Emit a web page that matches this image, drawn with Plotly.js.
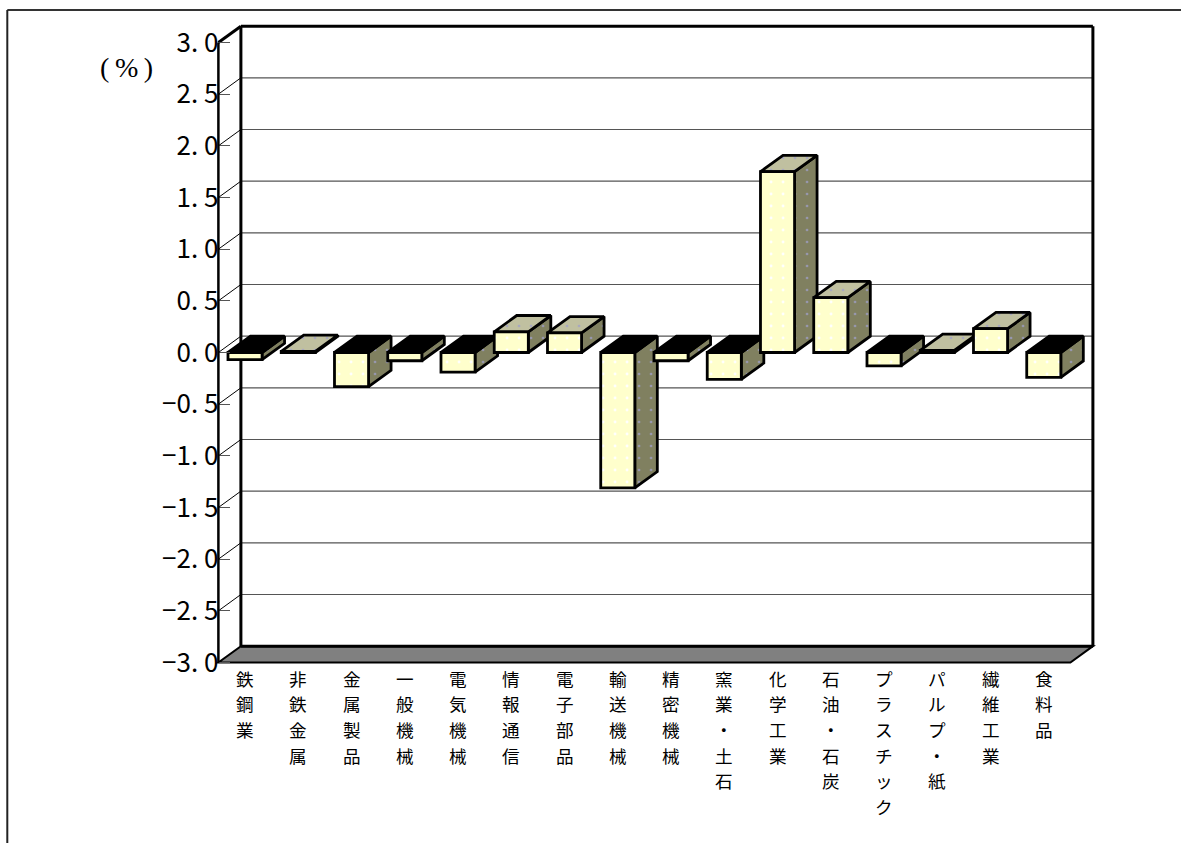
<!DOCTYPE html>
<html>
<head>
<meta charset="utf-8">
<script src="https://cdn.plot.ly/plotly-3.0.1.min.js"></script>
<style>
html,body{margin:0;padding:0;background:#fff;}
#chart{width:1181px;height:843px;}
</style>
</head>
<body>
<div id="chart"></div>
<script>
// ---- data ----
const categories = ['鉄鋼業','非鉄金属','金属製品','一般機械','電気機械','情報通信','電子部品','輸送機械','精密機械','窯業・土石','化学工業','石油・石炭','プラスチック','パルプ・紙','繊維工業','食料品'];
const values = [-0.07, 0.01, -0.33, -0.08, -0.19, 0.20, 0.19, -1.31, -0.08, -0.26, 1.75, 0.53, -0.13, 0.02, 0.23, -0.24];
const yTickValues = [-3, -2.5, -2, -1.5, -1, -0.5, 0, 0.5, 1, 1.5, 2, 2.5, 3];
const yTickLabels = ['−3. 0','−2. 5','−2. 0','−1. 5','−1. 0','−0. 5','0. 0','0. 5','1. 0','1. 5','2. 0','2. 5','3. 0'];
const unitLabel = '(\u2009%\u2009)';

// ---- 3D geometry (styling) ----
const W = 0.64;      // bar width in category units
const DX = 0.4225;   // depth offset along x (category units)
const DY = 0.158;    // depth offset along y (value units)
const X0 = -0.5, X1 = categories.length - 0.5;
const YMIN = -3, YMAX = 3;

const FIG_W = 1181, FIG_H = 843;
const PX_PER_X = 53.25, PX_PER_Y = 103.33;
const FRONT_LEFT_PX = 218.4, FRONT_TOP_PX = 42.5;
const xr = [X0 - 0.1, X1 + DX + 0.1];
const yr = [YMIN - 0.06, YMAX + DY + 0.06];
const xPx = v => FRONT_LEFT_PX + (v - X0) * PX_PER_X;
const yPx = v => FRONT_TOP_PX + (YMAX - v) * PX_PER_Y;
const xDomain = [xPx(xr[0]) / FIG_W, xPx(xr[1]) / FIG_W];
const yDomain = [1 - yPx(yr[0]) / FIG_H, 1 - yPx(yr[1]) / FIG_H];

// side faces & top faces built from values
const sideX = [], sideY = [], topPosX = [], topPosY = [], topNegX = [], topNegY = [];
values.forEach((v, i) => {
  const xl = i - W / 2, xrr = i + W / 2;
  sideX.push(xrr, xrr, xrr + DX, xrr + DX, xrr, null);
  sideY.push(0, v, v + DY, DY, 0, null);
  const t = Math.max(v, 0);
  const tx = [xl, xrr, xrr + DX, xl + DX, xl, null];
  const ty = [t, t, t + DY, t + DY, t, null];
  if (v >= 0) { topPosX.push(...tx); topPosY.push(...ty); }
  else { topNegX.push(...tx); topNegY.push(...ty); }
});

const outline = {color: '#000', width: 2.8};
const traces = [
  {type: 'scatter', mode: 'lines', x: sideX, y: sideY, fill: 'toself', fillcolor: '#808060',
   fillpattern: {shape: '.', fgcolor: '#9898b0', bgcolor: '#808060', size: 12, solidity: 0.04},
   line: outline, xaxis: 'x', yaxis: 'y', hoverinfo: 'skip', showlegend: false},
  {type: 'scatter', mode: 'lines', x: topPosX, y: topPosY, fill: 'toself', fillcolor: '#c0c0a0',
   fillpattern: {shape: '.', fgcolor: '#a8a8c0', bgcolor: '#c0c0a0', size: 12, solidity: 0.04},
   line: outline, xaxis: 'x', yaxis: 'y', hoverinfo: 'skip', showlegend: false},
  {type: 'scatter', mode: 'lines', x: topNegX, y: topNegY, fill: 'toself', fillcolor: '#000000',
   line: outline, xaxis: 'x', yaxis: 'y', hoverinfo: 'skip', showlegend: false},
  {type: 'bar', x: categories.map((c, i) => i), y: values, base: 0, width: W,
   marker: {color: '#FFFFCC', line: {color: '#000', width: 2.8},
            pattern: {shape: '.', fgcolor: '#ffffff', bgcolor: '#FFFFCC', size: 12, solidity: 0.045}},
   xaxis: 'x2', yaxis: 'y2', hoverinfo: 'skip', showlegend: false}
];

const shapes = [];
// floor
shapes.push({type: 'path', xref: 'x', yref: 'y', layer: 'below',
  path: `M ${X0},${YMIN} L ${X1},${YMIN} L ${X1 + DX},${YMIN + DY} L ${X0 + DX},${YMIN + DY} Z`,
  fillcolor: '#808080', line: {color: '#000', width: 2}});
// back wall gridlines and left wall diagonals
yTickValues.forEach(v => {
  if (v > YMIN && v < YMAX) {
    shapes.push({type: 'line', xref: 'x', yref: 'y', layer: 'below', x0: X0 + DX, x1: X1 + DX, y0: v + DY, y1: v + DY,
      line: {color: '#555', width: 1.2}});
    shapes.push({type: 'line', xref: 'x', yref: 'y', layer: 'below', x0: X0, x1: X0 + DX, y0: v, y1: v + DY,
      line: {color: '#000', width: 1}});
  }
});
// wall frame
const thick = {color: '#000', width: 3};
shapes.push({type: 'line', xref: 'x', yref: 'y', layer: 'below', x0: X0 + DX, x1: X0 + DX, y0: YMIN + DY, y1: YMAX + DY, line: thick});
shapes.push({type: 'line', xref: 'x', yref: 'y', layer: 'below', x0: X0 + DX, x1: X1 + DX, y0: YMAX + DY, y1: YMAX + DY, line: thick});
shapes.push({type: 'line', xref: 'x', yref: 'y', layer: 'below', x0: X1 + DX, x1: X1 + DX, y0: YMIN + DY, y1: YMAX + DY, line: thick});
shapes.push({type: 'line', xref: 'x', yref: 'y', layer: 'below', x0: X0 + DX, x1: X1 + DX, y0: YMIN + DY, y1: YMIN + DY, line: thick});
shapes.push({type: 'line', xref: 'x', yref: 'y', layer: 'below', x0: X0, x1: X0 + DX, y0: YMAX, y1: YMAX + DY, line: thick});
shapes.push({type: 'line', xref: 'x', yref: 'y', layer: 'above', x0: X0, x1: X0, y0: YMIN, y1: YMAX, line: {color: '#000', width: 2.5}});
// outer frame
shapes.push({type: 'line', xref: 'paper', yref: 'paper', x0: 7.3 / FIG_W, x1: 1, y0: 1 - 10 / FIG_H, y1: 1 - 10 / FIG_H, line: {color: '#333', width: 2}});
shapes.push({type: 'line', xref: 'paper', yref: 'paper', x0: 7.3 / FIG_W, x1: 7.3 / FIG_W, y0: 0, y1: 1 - 10 / FIG_H, line: {color: '#222', width: 2}});

// category labels: vertical text, one character per line, under each category tick
const LABEL_TOP_PX = 678, LABEL_STEP_PX = 25.7;
const annotations = [{xref: 'paper', yref: 'paper', x: 126 / FIG_W, y: 1 - 68 / FIG_H, xanchor: 'center', yanchor: 'middle',
  text: unitLabel, showarrow: false, font: {size: 28, family: '"Liberation Serif", serif', color: '#000'}}];
categories.forEach((c, i) => {
  Array.from(c).forEach((ch, k) => {
    annotations.push({xref: 'x', yref: 'paper', x: i, y: 1 - (LABEL_TOP_PX + k * LABEL_STEP_PX) / FIG_H,
      xanchor: 'center', yanchor: 'middle', text: ch, showarrow: false,
      font: {size: 17.6, family: '"Noto Sans CJK JP", sans-serif', color: '#000'}});
  });
});

const layout = {
  width: FIG_W, height: FIG_H,
  margin: {l: 0, r: 0, t: 0, b: 0},
  paper_bgcolor: '#fff', plot_bgcolor: 'rgba(0,0,0,0)',
  showlegend: false,
  font: {family: '"Noto Sans CJK JP", sans-serif', color: '#000'},
  xaxis: {domain: xDomain, range: xr, showgrid: false, zeroline: false, showline: false,
    showticklabels: false, ticks: '', fixedrange: true},
  yaxis: {domain: yDomain, range: yr, showgrid: false, zeroline: false, showline: false,
    tickmode: 'array', tickvals: yTickValues, ticktext: yTickLabels,
    ticks: 'inside', ticklen: 11, tickwidth: 1.2, tickcolor: '#555',
    tickfont: {size: 26, family: '"Noto Sans CJK JP", sans-serif'},
    anchor: 'free', position: FRONT_LEFT_PX / FIG_W, fixedrange: true},
  xaxis2: {overlaying: 'x', range: xr, visible: false, fixedrange: true},
  yaxis2: {overlaying: 'y', range: yr, visible: false, fixedrange: true},
  shapes: shapes,
  annotations: annotations,
  bargap: 0
};

Plotly.newPlot('chart', traces, layout, {staticPlot: true, displayModeBar: false});
</script>
</body>
</html>
